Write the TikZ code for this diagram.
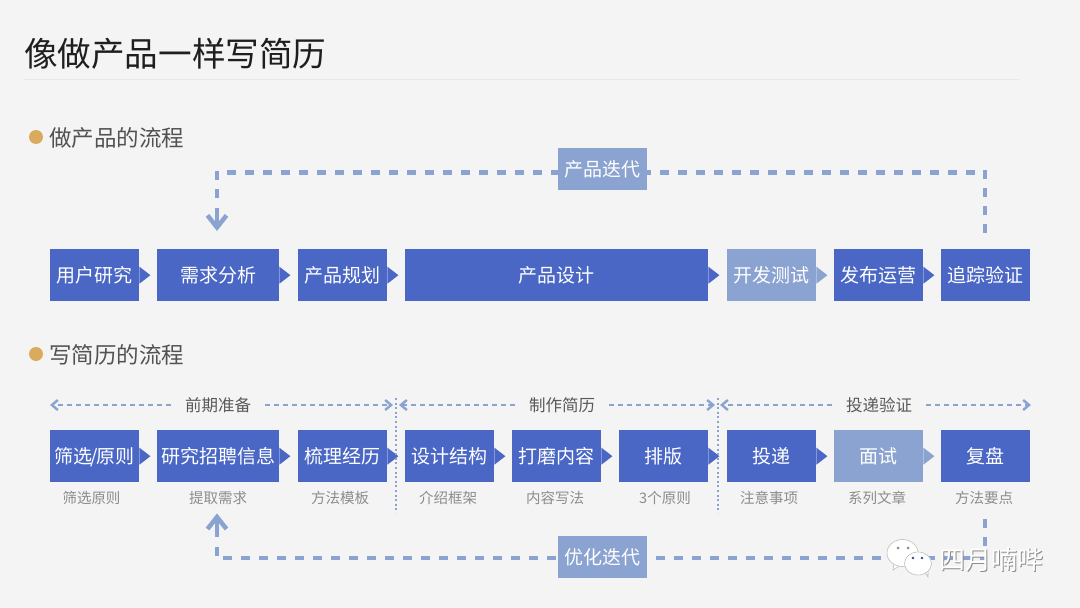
\documentclass[tikz,border=0pt]{standalone}
\usepackage{fontspec}
\setmainfont{Noto Sans CJK SC}
\usetikzlibrary{arrows.meta}
\definecolor{bgcol}{HTML}{F4F4F4}
\definecolor{boxblue}{HTML}{4A67C5}
\definecolor{paleblue}{HTML}{8AA3D1}
\definecolor{dotgold}{HTML}{D9AB5E}
\tikzset{
  stepbox/.style={fill=#1, text=white, inner sep=0pt, minimum height=52pt, anchor=north west, text height=17pt, text depth=3pt, font=\fontsize{19}{19}\selectfont},
  iterbox/.style={fill=paleblue, text=white, inner sep=0pt, minimum width=89pt, minimum height=42pt, font=\fontsize{19}{19}\selectfont},
  section/.style={text=black!68, anchor=west, inner sep=0pt, font=\fontsize{22.5}{22.5}\selectfont},
  stage/.style={text=black!65, inner sep=0pt, font=\fontsize{16.5}{16.5}\selectfont},
  note/.style={text=black!45, inner sep=0pt, text height=12pt, text depth=2pt, font=\fontsize{14.5}{14.5}\selectfont},
  feedback/.style={paleblue, line width=4.2pt, dash pattern=on 9pt off 9pt},
  feedhead/.style={paleblue, line width=4.5pt, -{Straight Barb[length=12pt,width=19pt]}},
  span/.style={paleblue, line width=1.9pt, dash pattern=on 5pt off 4pt},
  spanhead/.style={span, -{Straight Barb[length=6pt,width=10pt,line width=2.4pt]}},
  divider/.style={paleblue, line width=2pt, dash pattern=on 2pt off 2.6pt},
}
\begin{document}
\begin{tikzpicture}[x=1pt,y=-1pt]
    % Background
    \fill[bgcol] (0,0) rectangle (1080,608);
    \useasboundingbox (0,0) rectangle (1080,608);

    % Title
    \node[anchor=west, inner sep=0pt, text=black!88, font=\fontsize{33.6}{33.6}\selectfont] (title) at (24,53.5) {像做产品一样写简历};
    \draw[black!9, line width=0.8pt] (24,79) -- (1020,79);

    % Section headings
    \fill[dotgold] (36,137) circle (7);
    \node[section] (head1) at (49,137.5) {做产品的流程};
    \fill[dotgold] (36,354) circle (7);
    \node[section] (head2) at (49,354.5) {写简历的流程};

    % Upper row
    \foreach \name/\x/\w/\col/\txt in {user/50/89/boxblue/用户研究, need/157/122/boxblue/需求分析, plan/298/89/boxblue/产品规划, design/405/303/boxblue/产品设计, dev/727/89/paleblue/开发测试, run/834/89/boxblue/发布运营, track/941/89/boxblue/追踪验证}
        \node[stepbox=\col, minimum width=\w] (\name) at (\x,249) {\txt};

    % Lower row
    \foreach \name/\x/\w/\col/\txt in {filter/50/89/boxblue/{筛选\kern-2pt/\kern-2pt原则}, job/157/122/boxblue/研究招聘信息, sort/298/89/boxblue/梳理经历, frame/405/89/boxblue/设计结构, polish/512/89/boxblue/打磨内容, layout/619/89/boxblue/排版, send/727/89/boxblue/投递, talk/834/89/paleblue/面试, review/941/89/boxblue/复盘}
        \node[stepbox=\col, minimum width=\w] (\name) at (\x,430) {\txt};

    % Tips on the boxes
    \foreach \name/\col in {user/boxblue, need/boxblue, plan/boxblue, design/boxblue, dev/paleblue, run/boxblue, filter/boxblue, job/boxblue, sort/boxblue, frame/boxblue, polish/boxblue, layout/boxblue, send/boxblue, talk/paleblue}
        \fill[\col] (\name.east) ++(0,-8.5) -- ++(11,8.5) -- ++(-11,8.5) -- cycle;

    % Notes under the boxes
    \foreach \name/\x/\txt in {note1/91.5/筛选原则, note2/218/提取需求, note3/340/方法模板, note4/448/介绍框架, note5/555/内容写法, note6/665/3个原则, note7/769/注意事项, note8/877/系列文章, note9/984/方法要点}
        \node[note] (\name) at (\x,498.5) {\txt};

    % Stages
    \node[stage] (stage1) at (218,405) {前期准备};
    \node[stage] (stage2) at (562,405) {制作简历};
    \node[stage] (stage3) at (879,405) {投递验证};
    \coordinate (s1l) at (50,405);
    \coordinate (s1r) at (393,405);
    \coordinate (s2l) at (399,405);
    \coordinate (s2r) at (715,405);
    \coordinate (s3l) at (720,405);
    \coordinate (s3r) at (1031,405);
    \draw[spanhead, shorten <=14pt] (stage1.west) -- (s1l);
    \draw[spanhead, shorten <=14pt] (stage1.east) -- (s1r);
    \draw[spanhead, shorten <=14pt] (stage2.west) -- (s2l);
    \draw[spanhead, shorten <=14pt] (stage2.east) -- (s2r);
    \draw[spanhead, shorten <=14pt] (stage3.west) -- (s3l);
    \draw[spanhead, shorten <=14pt] (stage3.east) -- (s3r);
    \draw[divider] (395.5,398) -- (395.5,513);
    \draw[divider] (717.5,398) -- (717.5,513);

    % Loop of the upper row
    \node[iterbox] (iter1) at (602.5,169) {产品迭代};
    \coordinate (top1) at (227,172.5);
    \coordinate (top2) at (975,172.5);
    \coordinate (rise1) at (985,170);
    \coordinate (rise2) at (985,233);
    \coordinate (fall1) at (217,171);
    \coordinate (fall2) at (217,199);
    \coordinate (stem1) at (217,208);
    \draw[feedback] (rise1) -- (rise2);
    \draw[feedback] (top2) -- (iter1.east |- top2);
    \draw[feedback] (top1) -- (iter1.west |- top1);
    \draw[feedback] (fall1) -- (fall2);
    \draw[feedhead, shorten >=18pt] (stem1) -- (stem1 |- need.north);

    % Loop of the lower row
    \node[iterbox] (iter2) at (602.5,557) {优化迭代};
    \coordinate (low1) at (223,558);
    \coordinate (low2) at (985,558);
    \coordinate (from2) at (985,519);
    \coordinate (stem2) at (217,537);
    \coordinate (tail1) at (217,547);
    \coordinate (tail2) at (217,556);
    \draw[feedback] (from2) -- (low2);
    \draw[feedback, dash phase=9pt] (iter2.east |- low2) -- (low2);
    \draw[feedback] (low1) -- (iter2.west |- low1);
    \draw[feedback] (tail1) -- (tail2);
    \draw[feedhead, shorten >=31pt] (stem2) -- (stem2 |- job.south);

    % Watermark
    \begin{scope}[draw=black!25, fill=white, line width=0.6pt]
        \filldraw (894,563) -- (893,570) -- (901,565) -- cycle;
        \filldraw (902.5,553) ellipse (15.5 and 13.5);
        \filldraw (924,571) -- (928,577) -- (928,566) -- cycle;
        \filldraw (918,563.5) ellipse (13.5 and 11.5);
        \fill[black!45] (898,548) circle (1.5) (908,548) circle (1.5);
        \fill[boxblue!70!black] (913,558) circle (1.4) (922,558) circle (1.4);
    \end{scope}
    \node[text=black!45, inner sep=0pt, anchor=west, font=\fontsize{26}{26}\selectfont] (markshade) at (940,561) {四月喃哔};
    \node[text=white, inner sep=0pt, anchor=west, font=\fontsize{26}{26}\selectfont] (mark) at (939,560) {四月喃哔};
\end{tikzpicture}
\end{document}
